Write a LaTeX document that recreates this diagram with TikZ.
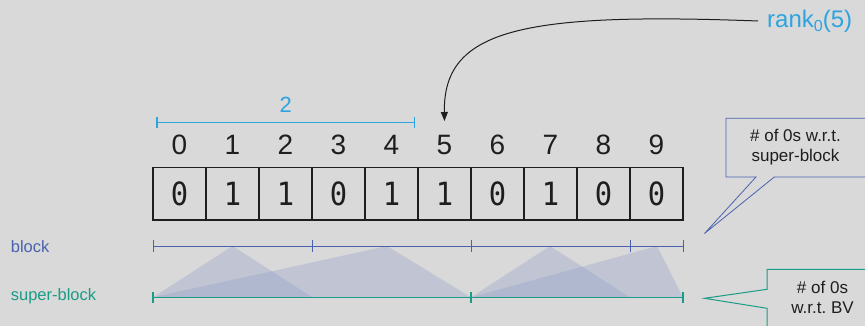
\documentclass[tikz,border=0pt]{standalone}
\usepackage{fontspec}
\setmainfont{Liberation Sans}
\newfontfamily\cellfont[FakeStretch=0.9]{DejaVu Sans Mono}
\usetikzlibrary{arrows.meta,calc}

\definecolor{bg}{HTML}{D9D9D9}
\definecolor{skyblue}{HTML}{2DA3DF}
\definecolor{blockblue}{HTML}{4A62AE}
\definecolor{sbteal}{HTML}{1A9C86}
\definecolor{tri}{RGB}{140,154,200}
\definecolor{ink}{HTML}{1E1E1E}

\tikzset{
  idx/.style={inner sep=0pt, font=\fontsize{28}{28}\selectfont, text=ink},
  cell/.style={draw=ink, line width=1.1pt, minimum width=53pt, minimum height=52.7pt,
               inner sep=0pt, font=\cellfont\fontsize{32}{32}\selectfont, text=ink},
  rowlabel/.style={anchor=west, inner sep=0pt, font=\fontsize{16.5}{16.5}\selectfont},
  calltext/.style={align=center, inner sep=0pt, text=ink,
                   font=\fontsize{17}{20}\selectfont},
  blockline/.style={draw=blockblue, line width=1pt},
  sbline/.style={draw=sbteal, line width=1.2pt},
  measure/.style={draw=skyblue, line width=1.2pt},
  share/.style={fill=tri, fill opacity=0.3, draw=none},
}

\begin{document}
\begin{tikzpicture}[x=1pt, y=-1pt]
  % canvas
  \fill[bg] (0,0) rectangle (865,326);
  \useasboundingbox (0,0) rectangle (865,326);

  % index row and bit cells
  \foreach \b [count=\i from 0] in {0,1,1,0,1,1,0,1,0,0} {
    \node[idx]  (i\i) at ({179.5+53*\i},145)   {\i};
    \node[cell] (c\i) at ({179.5+53*\i},193.6) {\b};
  }

  % measure over positions 0..4
  \coordinate (m0) at (157,122.3);
  \coordinate (m1) at (414.3,122.3);
  \draw[measure] (m0) -- (m1);
  \draw[measure] ([yshift=-5.5pt]m0) -- ([yshift=5.5pt]m0);
  \draw[measure] ([yshift=-5.5pt]m1) -- ([yshift=5.5pt]m1);
  \node[inner sep=0pt, text=skyblue, font=\fontsize{22}{22}\selectfont]
    (cnt) at (285.7,105) {2};

  % rank query and its arrow
  \node[anchor=west, inner sep=0pt, inner xsep=9pt, text=skyblue,
        font=\fontsize{24}{24}\selectfont] (rank) at (758,21)
    {rank{\fontsize{16}{16}\selectfont\raisebox{-4pt}{0}}(5)};
  \coordinate (tip) at (444.5,121);
  \draw[ink, line width=1pt, -{Triangle[length=9pt,width=7pt]}]
    (rank.west) .. controls (520,12) and (443,30) .. (tip);

  % block and super-block axes
  \coordinate (b0) at (153,246);
  \coordinate (b1) at (312,246);
  \coordinate (b2) at (471,246);
  \coordinate (b3) at (630,246);
  \coordinate (b4) at (683,246);
  \coordinate (s0) at (153,297.3);
  \coordinate (s1) at (471,297.3);
  \coordinate (s2) at (683,297.3);

  % shares of each block inside its super-block
  \fill[share] (s0) -- (232.5,246) -- (312.5,297.3) -- cycle;
  \fill[share] (s0) -- (387,246) -- (s1) -- cycle;
  \fill[share] (s1) -- (550,246) -- (630,297.3) -- cycle;
  \fill[share] (s1) -- (657,246) -- (s2) -- cycle;

  \draw[blockline] (b0) -- (b4);
  \foreach \c in {b0,b1,b2,b3,b4}
    \draw[blockline] ([yshift=-6pt]\c) -- ([yshift=6pt]\c);
  \draw[sbline] (s0) -- (s2);
  \foreach \c in {s0,s1,s2}
    \draw[sbline] ([yshift=-5.5pt]\c) -- ([yshift=5.5pt]\c);

  \node[rowlabel, text=blockblue] (lblock) at (10.7,246.5) {block};
  \node[rowlabel, text=sbteal]    (lsuper) at (10.7,296.5) {super-block};

  % callout for blocks
  \node[calltext] (cb) at (795.5,147) {\# of 0s w.r.t.\\super-block};
  \draw[blockblue, line width=0.8pt]
    (870,118.3) -- (726,118.3) -- (726,177) -- (756,177) -- (704.5,233.5)
    -- (774.3,177) -- (870,177);

  % callout for super-blocks
  \node[calltext] (cs) at (822.5,297.5) {\# of 0s\\w.r.t.\ BV};
  \draw[sbteal, line width=1pt]
    (870,269.3) -- (767,269.3) -- (767,289.3) -- (704.5,298.3)
    -- (767,308.3) -- (767,330);
\end{tikzpicture}
\end{document}
